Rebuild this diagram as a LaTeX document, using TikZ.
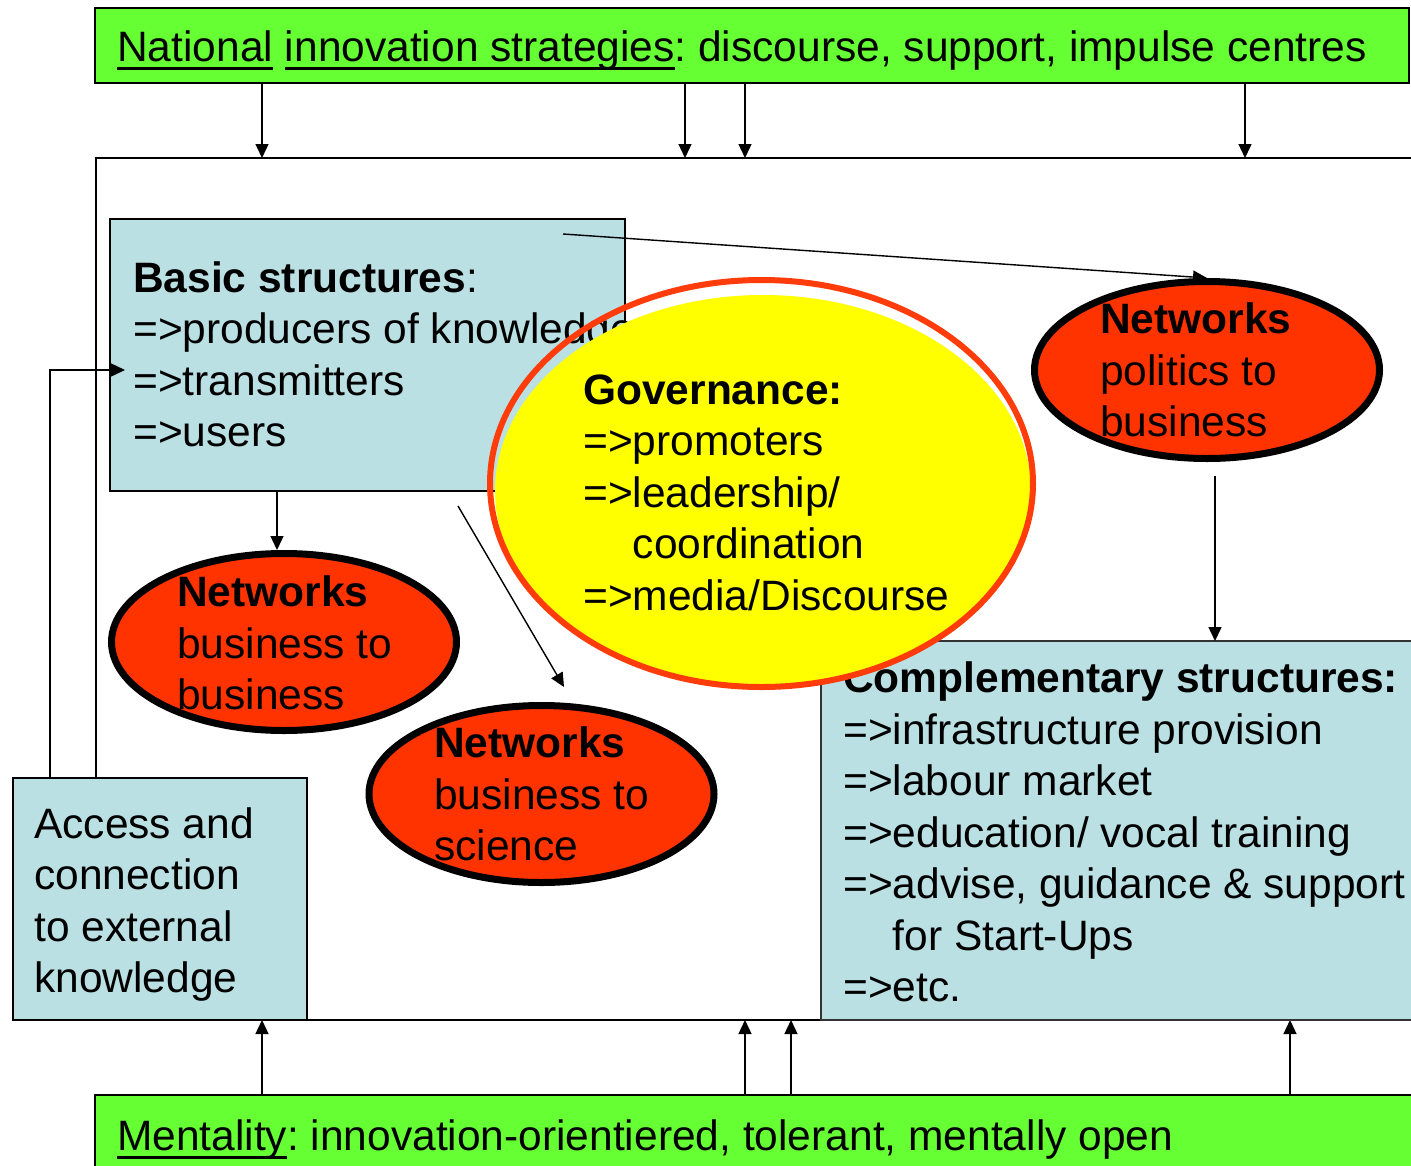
\documentclass[tikz,border=0pt]{standalone}
\usepackage{fontspec}
\setmainfont{Liberation Sans}
\usetikzlibrary{shapes.geometric,arrows.meta}
\frenchspacing

\definecolor{barGreen}{RGB}{102,255,51}
\definecolor{paleBlue}{RGB}{186,224,228}
\definecolor{netRed}{RGB}{255,51,0}
\definecolor{govYellow}{RGB}{255,255,0}
\definecolor{govRim}{RGB}{255,60,10}

% underline a word with a heavy rule
\newcommand\ulword[1]{{\setbox0=\hbox{#1}\rlap{\rule[-8.5pt]{\wd0}{2.6pt}}\box0}}

\tikzset{
  txt/.style={font=\fontsize{42.5}{51.5}\selectfont, align=left, inner sep=0pt, anchor=west},
  oneline/.style={font=\fontsize{42.5}{51.5}\selectfont, inner sep=0pt, anchor=base west},
  bar/.style={draw=black, line width=2pt, fill=barGreen, anchor=north west, inner sep=0pt, outer sep=0pt},
  panel/.style={draw=black, line width=1.5pt, fill=paleBlue, anchor=north west, inner sep=0pt, outer sep=0pt},
  netell/.style={ellipse, draw=black, line width=7pt, fill=netRed, minimum width=345pt, minimum height=177pt, inner sep=0pt},
  conn/.style={line width=1.4pt, -{Triangle[width=13pt,length=14pt]}},
}

\begin{document}
\begin{tikzpicture}[x=1pt,y=-1pt]
\useasboundingbox (0,0) rectangle (1411,1165);
\clip (0,0) rectangle (1411,1165);

% outer frame of the regional system
\node[draw=black, line width=1.5pt, fill=white, anchor=north west, inner sep=0pt, outer sep=0pt,
      minimum width=1360pt, minimum height=862pt] (main) at (96,158) {};

% top and bottom framework bars
\node[bar, minimum width=1314pt, minimum height=75pt] (nis) at (95,8) {};
\node[oneline] (nistxt) at (117,61) {\ulword{National} \ulword{innovation strategies}: discourse, support, impulse centres};
\node[bar, minimum width=1360pt, minimum height=90pt] (ment) at (95,1095) {};
\node[oneline] (menttxt) at (117,1150) {\ulword{Mentality}: innovation-orientiered, tolerant, mentally open};

% influences from the top bar
\foreach \xx in {262,685,745,1245} {
  \coordinate (tx) at (\xx,0);
  \draw[conn] (nis.south -| tx) -- (main.north -| tx);
}
% influences from the bottom bar
\foreach \xx in {262,745,791,1290} {
  \coordinate (bx) at (\xx,0);
  \draw[conn] (ment.north -| bx) -- (main.south -| bx);
}

% structure panels
\node[panel, minimum width=515pt, minimum height=272pt] (basic) at (110,219) {};
\node[txt] (basictxt) at (133,359) {\strut\textbf{Basic structures}:\\=>producers of knowledge\\=>transmitters\\=>users\strut};

\node[panel, minimum width=294pt, minimum height=242pt] (access) at (13,778) {};
\node[txt] (accesstxt) at (34,905) {\strut Access and\\connection\\to external\\knowledge\strut};

\node[panel, draw=black!80, minimum width=640pt, minimum height=379pt] (compl) at (821,641) {};
\node[txt] (compltxt) at (843,837) {\strut\textbf{Complementary structures:}\\=>infrastructure provision\\=>labour market\\=>education/ vocal training\\=>advise, guidance \& support\\\hphantom{=>}for Start-Ups\\=>etc.\strut};

% network ellipses
\node[netell] (b2b) at (284,642) {};
\node[txt] (b2btxt) at (177,648) {\strut\textbf{Networks}\\business to\\business\strut};
\node[netell] (b2s) at (541.5,794) {};
\node[txt] (b2stxt) at (434,799) {\strut\textbf{Networks}\\business to\\science\strut};
\node[netell] (pol) at (1207,370) {};
\node[txt] (poltxt) at (1100,375) {\strut\textbf{Networks}\\politics to\\business\strut};

% governance
\node[ellipse, fill=govYellow, minimum width=536pt, minimum height=392pt, inner sep=0pt] (govfill) at (763,491) {};
\node[ellipse, draw=govRim, line width=6pt, minimum width=543pt, minimum height=407pt, inner sep=0pt] (gov) at (761.5,483.5) {};
\node[txt] (govtxt) at (583,497) {\strut\textbf{Governance:}\\=>promoters\\=>leadership/\\\hphantom{=>}coordination\\=>media/Discourse\strut};

% connectors
\coordinate (bpStart) at (563,234);
\draw[conn] (bpStart) -- (pol.north);
\coordinate (bbX) at (277,0);
\draw[conn] (basic.south -| bbX) -- (b2b.north -| bbX);
\coordinate (dStart) at (458,506);
\coordinate (dEnd) at (564,687);
\draw[conn] (dStart) -- (dEnd);
\coordinate (pcStart) at (1215,476);
\draw[conn] (pcStart) -- (compl.north -| pcStart);
\coordinate (accX) at (50,0);
\coordinate (accTip) at (125,370);
\draw[conn] (access.north -| accX) |- (accTip);
\end{tikzpicture}
\end{document}
